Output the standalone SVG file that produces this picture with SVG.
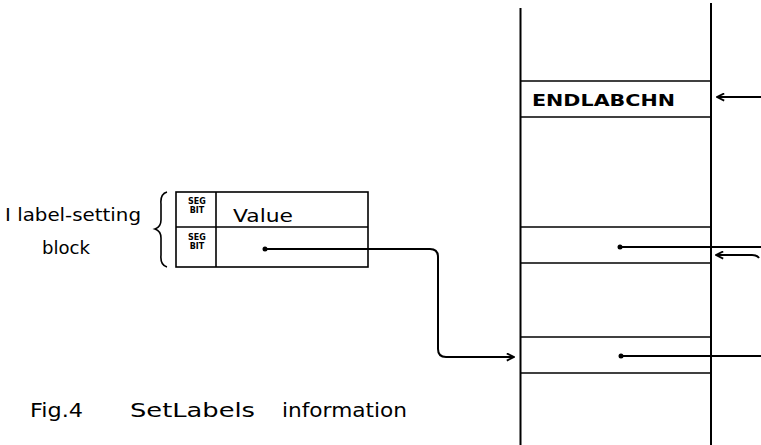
<svg xmlns="http://www.w3.org/2000/svg" width="761" height="445" viewBox="0 0 761 445">
<style>
.ln{stroke:#000;stroke-width:2;fill:none}
.th{stroke:#000;stroke-width:1.6;fill:none}
.t{font-family:"DejaVu Sans",sans-serif;fill:#000}
</style>
<defs>
<marker id="ah" viewBox="0 0 10 10" refX="9" refY="5" markerWidth="9" markerHeight="9" markerUnits="userSpaceOnUse" orient="auto">
<path d="M1,1 L9,5 L1,9" fill="none" stroke="#000" stroke-width="2"/>
</marker>
</defs>
<rect width="761" height="445" fill="#fff"/>
<g id="stack">
<line class="ln" x1="520.5" y1="8" x2="520.5" y2="445"/>
<line class="ln" x1="711" y1="3" x2="711" y2="445"/>
<line class="th" x1="520" y1="81" x2="711" y2="81"/>
<line class="th" x1="520" y1="117" x2="711" y2="117"/>
<line class="th" x1="520" y1="227" x2="711" y2="227"/>
<line class="th" x1="520" y1="263" x2="711" y2="263"/>
<line class="th" x1="520" y1="337" x2="711" y2="337"/>
<line class="th" x1="520" y1="373" x2="711" y2="373"/>
<text class="t" x="532" y="106" font-size="16" font-weight="bold" textLength="143" lengthAdjust="spacingAndGlyphs">ENDLABCHN</text>
</g>
<g id="block">
<rect class="th" x="176" y="192" width="192" height="75"/>
<line class="th" x1="176" y1="227" x2="368" y2="227"/>
<line class="th" x1="216" y1="192" x2="216" y2="267"/>
<text class="t" x="197" y="204" font-size="8" text-anchor="middle" font-weight="bold">SEG</text>
<text class="t" x="197" y="213" font-size="8" text-anchor="middle" font-weight="bold">BIT</text>
<text class="t" x="197" y="240" font-size="8" text-anchor="middle" font-weight="bold">SEG</text>
<text class="t" x="197" y="249" font-size="8" text-anchor="middle" font-weight="bold">BIT</text>
<text class="t" x="233" y="222" font-size="18" textLength="60" lengthAdjust="spacingAndGlyphs">Value</text>
</g>
<g id="label">
<path class="th" d="M167,192 Q160,194 161,204 L161,220 Q161,227 155,229 Q161,231 161,238 L161,255 Q160,265 167,267"/>
<text class="t" x="5" y="221" font-size="17" textLength="136" lengthAdjust="spacingAndGlyphs">I label-setting</text>
<text class="t" x="42" y="254" font-size="17" textLength="48" lengthAdjust="spacingAndGlyphs">block</text>
</g>
<g id="caption">
<text class="t" x="30" y="417" font-size="20" textLength="53" lengthAdjust="spacingAndGlyphs">Fig.4</text>
<text class="t" x="130" y="417" font-size="20" textLength="125" lengthAdjust="spacingAndGlyphs">SetLabels</text>
<text class="t" x="282" y="417" font-size="20" textLength="125" lengthAdjust="spacingAndGlyphs">information</text>
</g>
<g id="connectors">
<circle cx="265" cy="249" r="2.5" fill="#000"/>
<path class="ln" d="M265,249 L430,249 Q438,249 438,257 L438,349 Q438,357 446,357 L514,357" marker-end="url(#ah)"/>
<line class="ln" x1="761" y1="97" x2="717" y2="97" marker-end="url(#ah)"/>
<circle cx="620" cy="247" r="2.5" fill="#000"/>
<line class="ln" x1="620" y1="247" x2="761" y2="247"/>
<path class="ln" d="M759,258 Q757,255 752,255 L716,255" marker-end="url(#ah)"/>
<circle cx="621" cy="356" r="2.5" fill="#000"/>
<line class="ln" x1="621" y1="356" x2="761" y2="356"/>
</g>
</svg>
